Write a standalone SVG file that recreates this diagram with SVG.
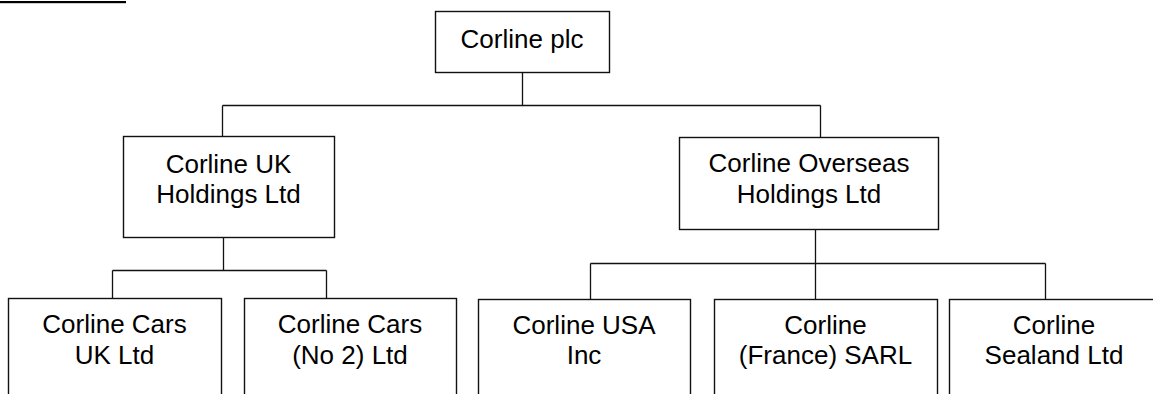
<svg xmlns="http://www.w3.org/2000/svg" width="1153" height="394" viewBox="0 0 1153 394">
<style>
.box{fill:#fff;stroke:#111;stroke-width:1.4}
.con{stroke:#111;stroke-width:1.3;fill:none}
text{font-family:"Liberation Sans",Arial,sans-serif;font-size:26px;fill:#000;text-anchor:middle}
</style>
<rect x="0" y="1" width="126" height="2.2" fill="#000"/>
<g id="connectors">
<path class="con" d="M522.5 72V105.5M222.5 105.5H820.5M222.5 105.5V136M820.5 105.5V137"/>
<path class="con" d="M223.5 237V270.5M112.5 270.5H326.5M112.5 270.5V299M326.5 270.5V299"/>
<path class="con" d="M815.5 229V299M590.5 263.5H1045.5M590.5 263.5V299M1045.5 263.5V299"/>
</g>
<g id="n-plc"><rect class="box" x="435.5" y="11.5" width="174" height="61"/><text x="522" y="48">Corline plc</text></g>
<g id="n-uk"><rect class="box" x="123.5" y="136.5" width="211" height="101"/><text x="228.5" y="173">Corline UK</text><text x="228.5" y="203">Holdings Ltd</text></g>
<g id="n-overseas"><rect class="box" x="679.5" y="137.5" width="259" height="92"/><text x="809" y="172">Corline Overseas</text><text x="809" y="203">Holdings Ltd</text></g>
<g id="n-carsuk"><rect class="box" x="8.5" y="298.5" width="213" height="110"/><text x="114.5" y="333">Corline Cars</text><text x="114.5" y="364">UK Ltd</text></g>
<g id="n-carsno2"><rect class="box" x="244.5" y="298.5" width="212" height="110"/><text x="350" y="333">Corline Cars</text><text x="350" y="364">(No 2) Ltd</text></g>
<g id="n-usa"><rect class="box" x="478.5" y="299.5" width="212" height="110"/><text x="584" y="334">Corline USA</text><text x="584" y="364">Inc</text></g>
<g id="n-france"><rect class="box" x="714.5" y="299.5" width="223" height="110"/><text x="825.5" y="334">Corline</text><text x="825.5" y="364">(France) SARL</text></g>
<g id="n-sealand"><rect class="box" x="949.5" y="299.5" width="212" height="110"/><text x="1054" y="334">Corline</text><text x="1054" y="364">Sealand Ltd</text></g>
</svg>
